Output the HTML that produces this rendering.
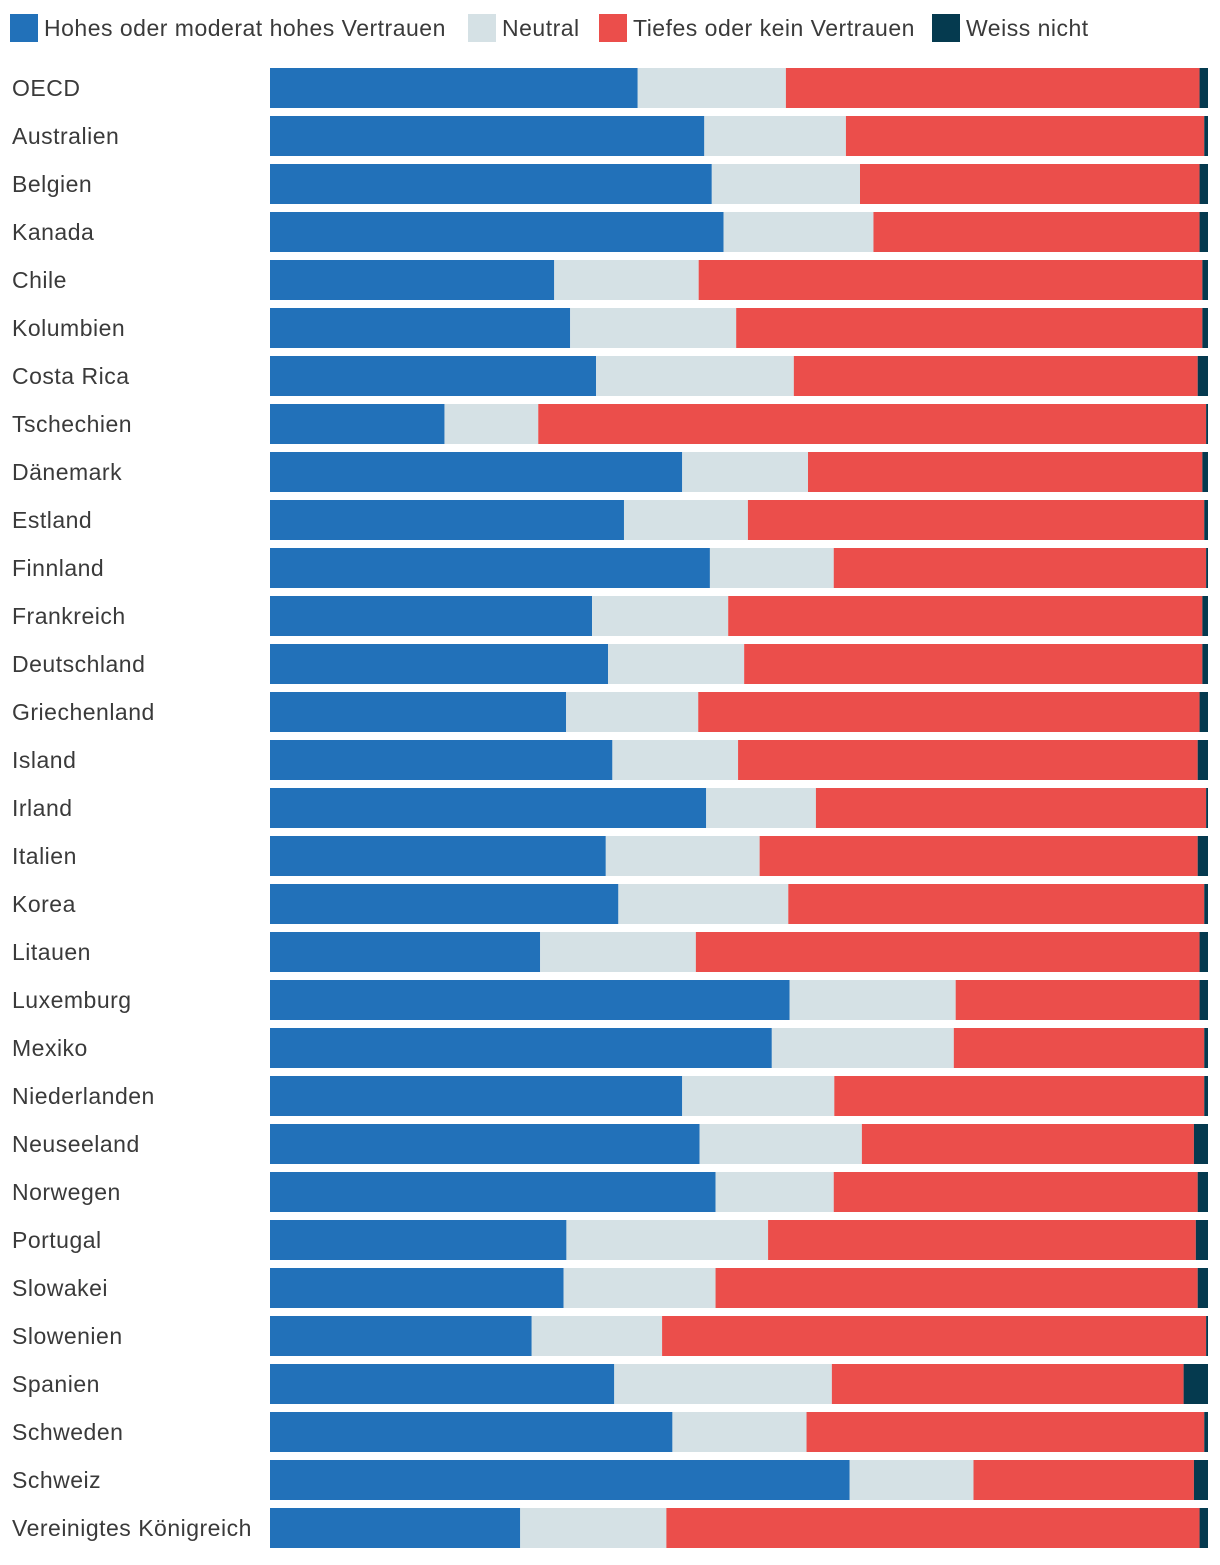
<!DOCTYPE html>
<html><head><meta charset="utf-8">
<style>
body{margin:0;background:#fff;width:1220px;height:1560px;overflow:hidden;font-family:"Liberation Sans",sans-serif;}
svg text{font-family:"Liberation Sans",sans-serif;fill:#3a3a3a;letter-spacing:0.5px;}
</style></head>
<body>
<svg id="chart" width="1220" height="1560"></svg>
<script>
const categories=["OECD","Australien","Belgien","Kanada","Chile","Kolumbien","Costa Rica","Tschechien","Dänemark","Estland","Finnland","Frankreich","Deutschland","Griechenland","Island","Irland","Italien","Korea","Litauen","Luxemburg","Mexiko","Niederlanden","Neuseeland","Norwegen","Portugal","Slowakei","Slowenien","Spanien","Schweden","Schweiz","Vereinigtes Königreich"];
const highTrust=[39.2,46.3,47.1,48.4,30.3,32.0,34.8,18.6,43.9,37.7,46.9,34.3,36.0,31.6,36.5,46.5,35.8,37.1,28.8,55.4,53.5,43.9,45.8,47.5,31.6,31.3,27.9,36.7,42.9,61.8,26.7];
const neutral=[15.8,15.1,15.8,16.0,15.4,17.7,21.1,10.0,13.4,13.2,13.2,14.5,14.5,14.1,13.4,11.7,16.4,18.1,16.6,17.7,19.4,16.2,17.3,12.6,21.5,16.2,13.9,23.2,14.3,13.2,15.6];
const lowTrust=[44.1,38.2,36.2,34.8,53.7,49.7,43.1,71.2,42.0,48.6,39.7,50.5,48.8,53.5,49.0,41.6,46.7,44.3,53.7,26.0,26.7,39.4,35.4,38.8,45.6,51.4,58.0,37.5,42.4,23.5,56.9];
const dontKnow=[0.9,0.4,0.9,0.9,0.6,0.6,1.1,0.2,0.6,0.4,0.2,0.6,0.6,0.9,1.1,0.2,1.1,0.4,0.9,0.9,0.4,0.4,1.5,1.1,1.3,1.1,0.2,2.6,0.4,1.5,0.9];
const seriesNames=["Hohes oder moderat hohes Vertrauen","Neutral","Tiefes oder kein Vertrauen","Weiss nicht"];

const colors=["#2271b9","#d5e1e5","#eb4e4b","#053a4f"];
const ns="http://www.w3.org/2000/svg";
const svg=document.getElementById("chart");
const X0=270,W=938,Y0=68,STEP=48,BH=40;
function mk(t,a){const e=document.createElementNS(ns,t);for(const k in a)e.setAttribute(k,a[k]);svg.appendChild(e);return e;}
const legX=[10,468,599,932];
seriesNames.forEach((n,i)=>{
  const r=mk("rect",{x:legX[i],y:14,width:28,height:28,fill:colors[i]});
  
  
  const t=mk("text",{x:legX[i]+34,y:36,"font-size":23});
  t.textContent=n;
  
  
});
const series=[highTrust,neutral,lowTrust,dontKnow];
const segNames=["high-trust","neutral","low-trust","dont-know"];
categories.forEach((c,i)=>{
  const y=Y0+i*STEP;
  const t=mk("text",{x:12,y:y+28,"font-size":23});
  t.textContent=c;
  
  
  const tot=series.reduce((s,a)=>s+a[i],0);
  let acc=0;
  series.forEach((a,k)=>{
    const x1=X0+acc/tot*W; acc+=a[i]; const x2=X0+acc/tot*W;
    const r=mk("rect",{x:x1,y:y,width:Math.max(0,x2-x1),height:BH,fill:colors[k]});
    
    
  });
});
</script>
</body></html>
